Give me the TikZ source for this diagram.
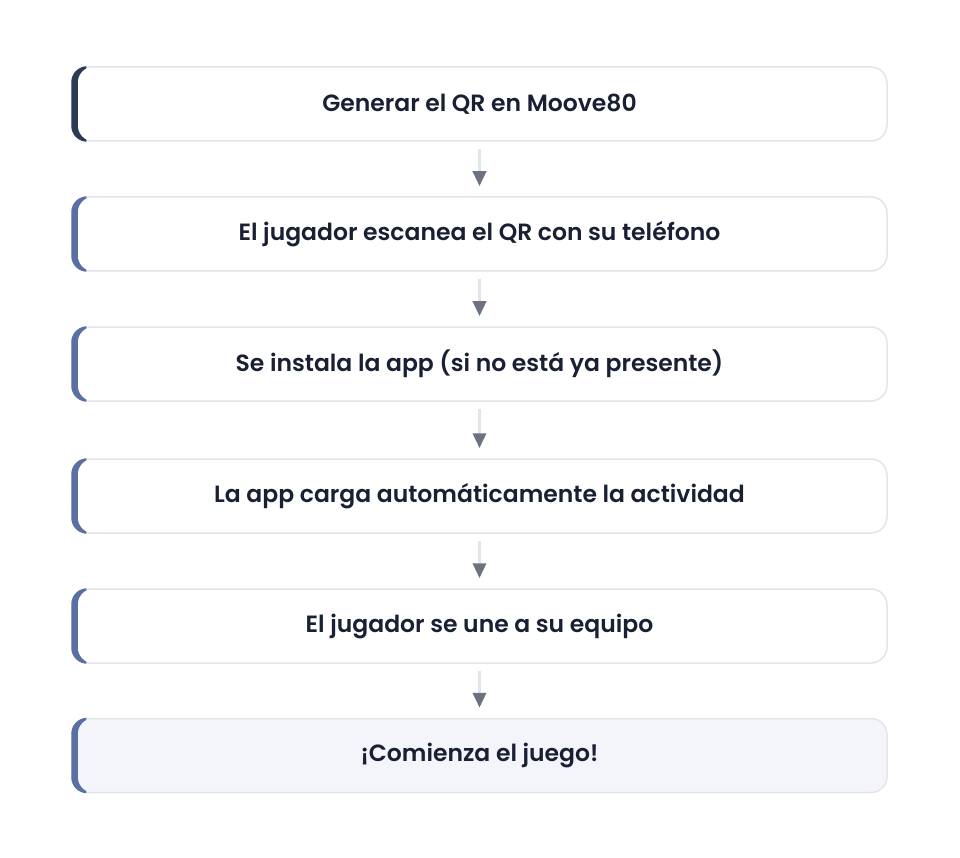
\documentclass[tikz,border=0pt]{standalone}
\usepackage{fontspec}
\setmainfont{Poppins}[UprightFont=* Medium, BoldFont=* SemiBold]
\usetikzlibrary{arrows.meta}
\definecolor{bordergray}{HTML}{E3E5EA}
\definecolor{darkacc}{HTML}{2C3A57}
\definecolor{blueacc}{HTML}{5A6FA3}
\definecolor{txt}{HTML}{1A2033}
\definecolor{linegray}{HTML}{E3E5EA}
\definecolor{headgray}{HTML}{6B7280}
\definecolor{lastfill}{HTML}{F4F5FA}
\tikzset{
  stepbox/.style={draw=bordergray, line width=1.5pt, rounded corners=16pt, fill=white,
    minimum width=815pt, minimum height=74pt, inner sep=0pt, text=txt,
    font=\fontsize{23.5}{26}\selectfont\bfseries},
  conn/.style={draw=linegray, line width=3.5pt,
    -{Triangle[color=headgray, width=13pt, length=15pt]}}
}
\newcommand{\steptext}[1]{\raisebox{-1.5pt}{#1}}
\newcommand{\leftaccent}[2]{%
  \begin{scope}
    \clip ([xshift=-2pt,yshift=-2pt]#1.south west) rectangle ([xshift=15pt,yshift=2pt]#1.north west);
    \fill[#2, even odd rule, rounded corners=16pt]
      (#1.south west) rectangle (#1.north east)
      ([xshift=6.5pt,yshift=0.3pt]#1.south west) rectangle ([yshift=-0.3pt]#1.north east);
  \end{scope}}
\begin{document}
\begin{tikzpicture}[x=1pt,y=-1pt]
\useasboundingbox (0,0) rectangle (960,858);
\node[stepbox] (s1) at (479.5,104) {\steptext{Generar el QR en Moove80}};
\node[stepbox] (s2) at (479.5,234) {\steptext{El jugador escanea el QR con su teléfono}};
\node[stepbox] (s3) at (479.5,364) {\steptext{Se instala la app (si no está ya presente)}};
\node[stepbox] (s4) at (479.5,496) {\steptext{La app carga automáticamente la actividad}};
\node[stepbox] (s5) at (479.5,626) {\steptext{El jugador se une a su equipo}};
\node[stepbox, fill=lastfill] (s6) at (479.5,755.5) {\steptext{¡Comienza el juego!}};
\leftaccent{s1}{darkacc}
\leftaccent{s2}{blueacc}
\leftaccent{s3}{blueacc}
\leftaccent{s4}{blueacc}
\leftaccent{s5}{blueacc}
\leftaccent{s6}{blueacc}
\foreach \a/\b in {s1/s2,s2/s3,s3/s4,s4/s5,s5/s6}
  \draw[conn] ([yshift=-7pt]\a.south) -- ([yshift=10pt]\b.north);
\end{tikzpicture}
\end{document}
